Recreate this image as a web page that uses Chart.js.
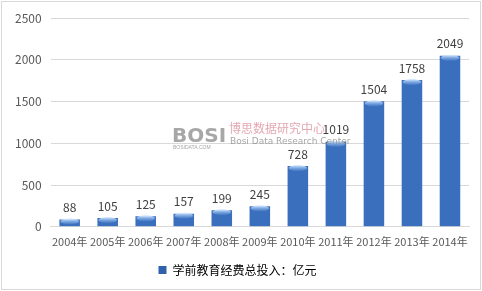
<!DOCTYPE html>
<html>
<head>
<meta charset="utf-8">
<script src="https://cdn.jsdelivr.net/npm/chart.js@4.4.0/dist/chart.umd.min.js"></script>
<style>
  html, body { margin: 0; padding: 0; background: #fff; }
  #wrap { position: relative; width: 478px; height: 287px; margin: 1px; border: 1px solid #d9d9d9; }
</style>
</head>
<body>
<div id="wrap"><canvas id="chart"></canvas></div>
<script>
const years = ['2004年', '2005年', '2006年', '2007年', '2008年', '2009年', '2010年', '2011年', '2012年', '2013年', '2014年'];
const spending = [88, 105, 125, 157, 199, 245, 728, 1019, 1504, 1758, 2049];
const yTicks = [0, 500, 1000, 1500, 2000, 2500];
const seriesName = '学前教育经费总投入：亿元';

const fontFamily = '"Noto Sans CJK SC", "DejaVu Sans", sans-serif';

// gradient fill for the bars, darker at the edges
function barFill(context) {
    const chart = context.chart;
    const el = context.element;
    if (!el || !el.width) return '#3a6fbe';
    const ctx = chart.ctx;
    const g = ctx.createLinearGradient(el.x - el.width / 2, 0, el.x + el.width / 2, 0);
    g.addColorStop(0, '#2a5596');
    g.addColorStop(0.4, '#4178c6');
    g.addColorStop(0.6, '#3f76c4');
    g.addColorStop(1, '#234b86');
    return g;
}

// value labels above bars + little highlight cap on top
const valueLabels = {
    id: 'valueLabels',
    afterDatasetsDraw(chart) {
        const ctx = chart.ctx;
        const meta = chart.getDatasetMeta(0);
        ctx.save();
        meta.data.forEach(function (bar, i) {
            const w = bar.width;
            const hg = ctx.createLinearGradient(0, bar.y, 0, bar.y + 6);
            hg.addColorStop(0, 'rgba(200,225,255,0.9)');
            hg.addColorStop(1, 'rgba(120,170,230,0)');
            ctx.fillStyle = hg;
            ctx.beginPath();
            ctx.ellipse(bar.x, bar.y + 2, w / 2 - 1, 3, 0, 0, Math.PI * 2);
            ctx.fill();

            ctx.fillStyle = '#404040';
            ctx.font = '12px ' + fontFamily;
            ctx.textAlign = 'center';
            ctx.textBaseline = 'bottom';
            ctx.fillText(String(spending[i]), bar.x, bar.y - 6);
        });
        ctx.restore();
    }
};

// watermark
const watermark = {
    id: 'watermark',
    afterDraw(chart) {
        const ctx = chart.ctx;
        ctx.save();
        ctx.globalAlpha = 0.75;
        ctx.fillStyle = '#8a8a8a';
        ctx.font = 'bold 20px "DejaVu Sans", sans-serif';
        ctx.textBaseline = 'alphabetic';
        ctx.fillText('BOSI', 170, 140);
        ctx.fillStyle = '#d98a98';
        ctx.font = '12px "Noto Sans CJK SC", sans-serif';
        ctx.fillText('博思数据研究中心', 227, 131);
        ctx.fillStyle = '#888';
        ctx.font = '9px "DejaVu Sans", sans-serif';
        ctx.fillText('Bosi Data Research Center', 228, 142);
        ctx.font = '5px sans-serif';
        ctx.fillText('BOSIDATA.COM', 171, 147);
        ctx.restore();
    }
};

new Chart(document.getElementById('chart').getContext('2d'), {
    type: 'bar',
    data: {
        labels: years,
        datasets: [{
            label: seriesName,
            data: spending,
            backgroundColor: barFill,
            borderWidth: 0,
            barPercentage: 0.54,
            categoryPercentage: 1.0
        }]
    },
    options: {
        responsive: true,
        maintainAspectRatio: false,
        animation: false,
        layout: { padding: { left: 4, right: 11, top: 4, bottom: 3 } },
        scales: {
            x: {
                grid: { display: false, drawTicks: false },
                border: { color: '#d9d9d9' },
                ticks: { color: '#595959', font: { size: 11, family: fontFamily }, padding: 8, maxRotation: 0, autoSkip: false }
            },
            y: {
                min: 0,
                max: 2500,
                afterBuildTicks(axis) { axis.ticks = yTicks.map(v => ({ value: v })); },
                grid: { color: '#d9d9d9', drawTicks: false },
                border: { display: false },
                ticks: { color: '#595959', font: { size: 12, family: fontFamily }, padding: 9,
                    callback: function (v) { return String(v); } }
            }
        },
        plugins: {
            legend: {
                position: 'bottom',
                labels: { color: '#595959', font: { size: 12, family: fontFamily }, boxWidth: 8, boxHeight: 8, padding: 8,
                    generateLabels() { return [{ text: seriesName, fillStyle: '#2f62aa', strokeStyle: '#2f62aa', lineWidth: 0 }]; } }
            },
            tooltip: { enabled: false }
        }
    },
    plugins: [valueLabels, watermark]
});
</script>
</body>
</html>
